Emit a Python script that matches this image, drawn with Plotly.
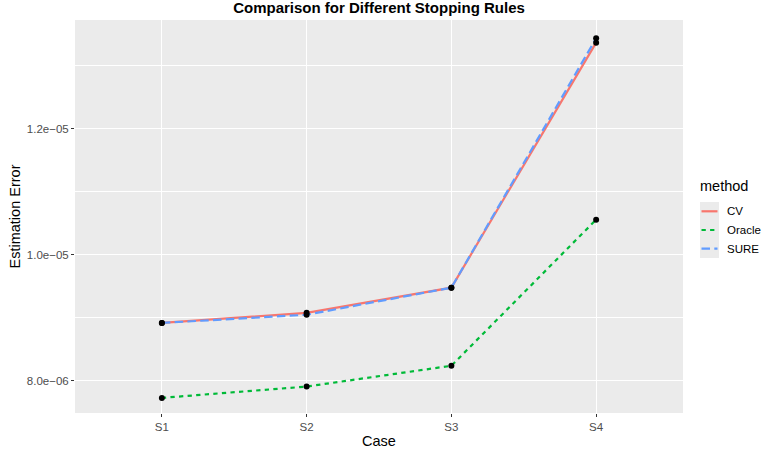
import plotly.graph_objects as go

cases = ["S1", "S2", "S3", "S4"]
cv = [8.92e-6, 9.08e-6, 9.48e-6, 13.37e-6]
oracle = [7.73e-6, 7.91e-6, 8.24e-6, 10.56e-6]
sure = [8.92e-6, 9.05e-6, 9.48e-6, 13.44e-6]
ytick_vals = [8e-6, 1.0e-5, 1.2e-5]
ytick_text = ["8.0e\u221206", "1.0e\u221205", "1.2e\u221205"]
methods = ["CV", "Oracle", "SURE"]

colors = ["#F8766D", "#00BA38", "#619CFF"]
dashes = ["solid", "4.3px,4.3px", "8.5px,4.3px"]

W, H = 761, 455
L, R, T, B = 75, 683, 20, 413


def px(x):
    return (x - L) / (R - L)


def py(y):
    return (B - y) / (B - T)


fig = go.Figure()
for name, vals, col, dash in zip(methods, [cv, oracle, sure], colors, dashes):
    fig.add_trace(go.Scatter(x=cases, y=vals, mode="lines", name=name, showlegend=False,
                             line=dict(color=col, width=2.2, dash=dash)))
for vals in [cv, oracle, sure]:
    fig.add_trace(go.Scatter(x=cases, y=vals, mode="markers", showlegend=False,
                             marker=dict(color="black", size=6)))

# manual ggplot-style legend
shapes = [dict(type="rect", xref="paper", yref="paper", x0=px(700), x1=px(719),
               y0=py(258), y1=py(202), fillcolor="#EBEBEB", line=dict(width=0), layer="below")]
annotations = [dict(text="method", xref="paper", yref="paper", x=px(698), y=py(186),
                    xanchor="left", yanchor="middle", showarrow=False, font=dict(size=14.5))]
key_y = [211.3, 230, 248.7]
for name, col, dash, ky in zip(methods, colors, dashes, key_y):
    shapes.append(dict(type="line", xref="paper", yref="paper", x0=px(701.5), x1=px(717.5),
                       y0=py(ky), y1=py(ky), line=dict(color=col, width=2.2, dash=dash)))
    annotations.append(dict(text=name, xref="paper", yref="paper", x=px(725), y=py(ky),
                            xanchor="left", yanchor="middle", showarrow=False,
                            font=dict(size=11.5)))

font = "Liberation Sans, Arial, sans-serif"
fig.update_layout(
    width=W, height=H,
    margin=dict(l=L, r=W - R, t=T, b=H - B, autoexpand=False),
    paper_bgcolor="white", plot_bgcolor="#EBEBEB",
    font=dict(family=font, color="black"),
    showlegend=False,
    shapes=shapes, annotations=annotations,
    title=dict(text="<b>Comparison for Different Stopping Rules</b>",
               x=(L + R) / 2 / W, xanchor="center", y=1 - 8 / H, yanchor="middle",
               font=dict(size=15)),
    xaxis=dict(range=[-0.6, 3.6], showgrid=True, gridcolor="white", gridwidth=1.1,
               zeroline=False, ticks="outside", ticklen=3, tickcolor="#333333",
               tickfont=dict(size=11.5, color="#4D4D4D"), automargin=False,
               title=dict(text="Case", font=dict(size=14.5), standoff=4)),
    yaxis=dict(range=[7.49e-6, 13.73e-6], tickvals=ytick_vals, ticktext=ytick_text,
               showgrid=True, gridcolor="white", gridwidth=1.1, zeroline=False,
               ticks="outside", ticklen=3, tickcolor="#333333",
               tickfont=dict(size=11.5, color="#4D4D4D"), automargin=False,
               minor=dict(tickvals=[9e-6, 1.1e-5, 1.3e-5], showgrid=True,
                          gridcolor="white", gridwidth=0.5, ticks=""),
               title=dict(text="Estimation Error", font=dict(size=14.5), standoff=2)),
)
fig.write_html("out.html", config={"displayModeBar": False},
               post_script="document.body.style.margin='0';document.body.style.overflow='hidden';")
